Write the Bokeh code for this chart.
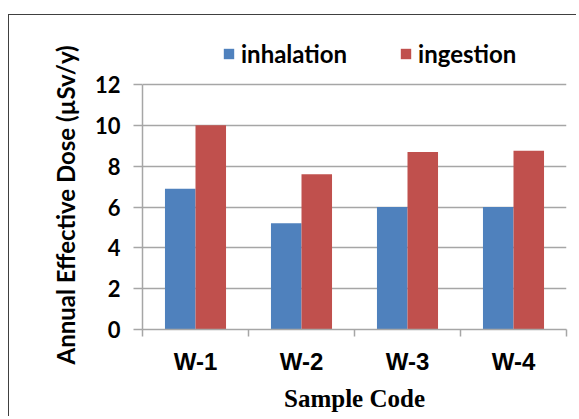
from bokeh.plotting import figure
from bokeh.models import (ColumnDataSource, Range1d, FixedTicker, Legend,
                          LegendItem, Title)
from bokeh.embed import file_html
from bokeh.resources import INLINE

categories = ["W-1", "W-2", "W-3", "W-4"]
inhalation = [6.9, 5.2, 6.0, 6.0]
ingestion = [10.0, 7.6, 8.7, 8.75]
y_ticks = [0, 2, 4, 6, 8, 10, 12]

BLUE = "#4f81bd"
RED = "#c0504d"
GRID = "#a6a6a6"

centers = [i + 0.5 for i in range(len(categories))]
off = 0.144
bw = 0.288
src = ColumnDataSource(dict(
    x_inh=[c - off for c in centers],
    x_ing=[c + off for c in centers],
    inh=inhalation,
    ing=ingestion,
))

# frame extends above the top tick so the legend sits inside it
y_top = 14.694
p = figure(width=568, height=402,
           x_range=Range1d(0, len(categories)), y_range=Range1d(0, y_top),
           output_backend="svg", toolbar_location=None,
           min_border_left=133, min_border_right=11,
           min_border_top=14, min_border_bottom=88,
           styles={"margin-left": "8px", "margin-top": "14px",
                   "border-left": "1.5px solid #404040",
                   "border-top": "1.5px solid #404040"})
p.outline_line_color = None
p.background_fill_color = "white"
p.border_fill_color = "white"

r1 = p.vbar(x="x_inh", top="inh", width=bw, bottom=0, source=src,
            fill_color=BLUE, line_color=None)
r2 = p.vbar(x="x_ing", top="ing", width=bw, bottom=0, source=src,
            fill_color=RED, line_color=None)

# grids
p.xgrid.visible = False
p.ygrid.ticker = FixedTicker(ticks=y_ticks)
p.ygrid.grid_line_color = GRID
p.ygrid.grid_line_width = 1.5

# y axis
ya = p.yaxis[0]
ya.ticker = FixedTicker(ticks=y_ticks)
ya.bounds = (y_ticks[0], y_ticks[-1])
ya.axis_line_color = GRID
ya.axis_line_width = 1.5
ya.major_tick_line_color = GRID
ya.major_tick_line_width = 1.5
ya.major_tick_in = 0
ya.major_tick_out = 9
ya.minor_tick_line_color = None
ya.major_label_standoff = 13
ya.major_label_text_font = "Lato"
ya.major_label_text_font_style = "bold"
ya.major_label_text_font_size = "22px"
ya.major_label_text_color = "black"

# y-axis title, positioned along the 0..12 span (not the taller frame)
ytitle = Title(text="Annual Effective Dose (\u00b5Sv/y)", align="left",
               offset=-35, standoff=24,
               text_font="Lato", text_font_style="bold",
               text_font_size="24px", text_color="black")
p.add_layout(ytitle, "left")

# x axis
xa = p.xaxis[0]
xa.ticker = FixedTicker(ticks=centers, minor_ticks=list(range(len(categories) + 1)))
xa.major_label_overrides = {c: cat for c, cat in zip(centers, categories)}
xa.axis_line_color = GRID
xa.axis_line_width = 1.5
xa.major_tick_line_color = None
xa.major_tick_in = 0
xa.major_tick_out = 0
xa.minor_tick_line_color = GRID
xa.minor_tick_line_width = 1.5
xa.minor_tick_in = 0
xa.minor_tick_out = 7
xa.major_label_standoff = 11
xa.major_label_text_font = "Liberation Sans"
xa.major_label_text_font_style = "bold"
xa.major_label_text_font_size = "24px"
xa.major_label_text_color = "black"
xa.axis_label = "Sample Code"
xa.axis_label_text_font = "Liberation Serif"
xa.axis_label_text_font_style = "bold"
xa.axis_label_text_font_size = "25px"
xa.axis_label_text_color = "black"
xa.axis_label_standoff = 7

legend = Legend(items=[LegendItem(label="inhalation", renderers=[r1]),
                       LegendItem(label="ingestion", renderers=[r2])],
                orientation="horizontal", location=(80, 261),
                glyph_width=13, glyph_height=13, label_standoff=6,
                spacing=52, padding=0, margin=0,
                border_line_color=None, background_fill_alpha=0,
                label_text_font="Lato", label_text_font_style="bold",
                label_text_font_size="24px", label_text_color="black")
p.add_layout(legend, "center")

open("out.html", "w").write(file_html(p, INLINE))
